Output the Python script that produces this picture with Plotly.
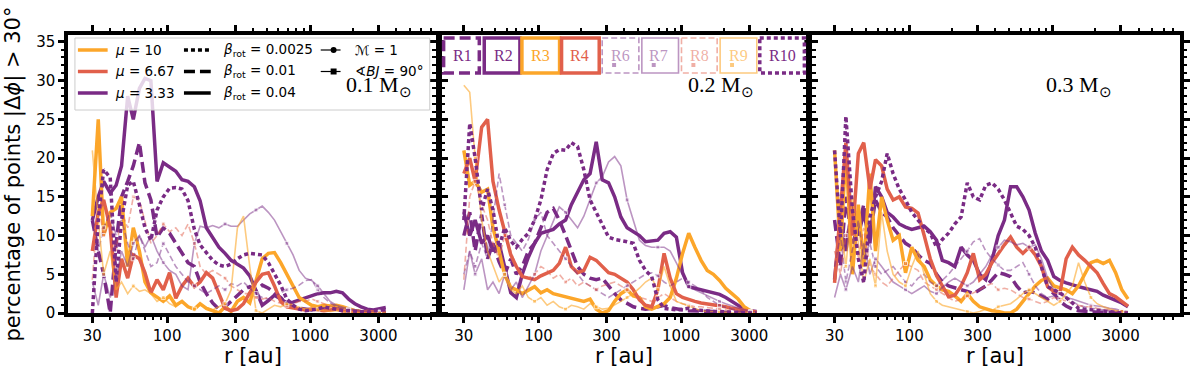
import plotly.graph_objects as go

# radial bins (au)
r_au = [30, 33, 36, 40, 44, 48, 53, 58, 64, 70,
        77, 85, 94, 104, 115, 127, 140, 155, 170, 188,
        208, 230, 254, 280, 310, 342, 378, 418, 462, 510,
        563, 622, 687, 759, 838, 926, 1023, 1130, 1248, 1379,
        1523, 1682, 1858, 2053, 2268, 2505, 2767, 3057, 3377]

# percentage of points with |dphi| > 30 deg -- 0.1 Msun
p1_r1 = [12, 8, 5, 0, 9, 15, 17, 19, 22, 16.8,
         14.6, 9.8, 11, 10.3, 9, 7.7, 6.5, 6, 4, 2.5,
         1.3, 0.5, 0.8, 1.5, 2.2, 3.0, 3.4, 3.0, 3.6, 3.2,
         2.6, 2.0, 1.2, 0.8, 0.6, 0.5, 0.4, 0.6, 0.8, 0.9,
         0.7, 0.5, 0.4, 0.3, 0.2, 0.2, 0.3, 0.2, 0.3]
p1_r2 = [12, 15, 17, 15.5, 16.5, 19, 28, 25, 29, 30.3,
         30, 17, 19.4, 18.8, 18.3, 17.2, 17, 16.3, 14.5, 11,
         9.8, 8.5, 7.7, 6.8, 6.3, 5.8, 4.8, 3.0, 1.0, 1.6,
         2.3, 1.8, 1.3, 1.4, 1.7, 1.9, 2.2, 2.5, 2.6, 2.6,
         2.8, 2.6, 1.8, 1.2, 0.8, 0.5, 0.4, 0.5, 0.7]
p1_r3 = [12.5, 25, 10, 13, 13.5, 15, 6, 11, 8, 4,
         2.6, 2, 1.5, 2.2, 1.0, 1.5, 0.8, 0.5, 1.2, 0.6,
         0.3, 0, 0.8, 0.2, 1.5, 2, 1.3, 4, 7, 7.7,
         7.8, 6.5, 5, 3.5, 2, 1.5, 1.0, 0.8, 1.0, 0.9,
         1.0, 0.8, 0.5, 0.3, 0.2, 0.1, 0, 0, 0]
p1_r4 = [8, 13, 14.6, 11, 2, 7, 4.5, 7.5, 7, 5.2,
         2.6, 4.3, 3, 5.2, 1.9, 3.5, 4.5, 3.4, 4, 5.2,
         4.5, 2.6, 0.6, 0.3, 0.5, 1.2, 2.5, 4, 5, 5.2,
         3.5, 1.5, 0.8, 0.6, 0.5, 0.4, 0.5, 0.4, 0.3, 0.4,
         0.5, 0.3, 0.2, 0.2, 0.1, 0.2, 0.1, 0, 0]
p1_r6 = [12, 8, 11, 13, 10, 12, 9, 7, 10, 8,
         6, 6.5, 9, 7.5, 6, 5, 4, 3.5, 3, 2.5,
         3, 3.5, 3, 3.8, 3.5, 4, 3.2, 2.5, 2, 1.8,
         2.2, 2.6, 3, 3.2, 3.6, 4.2, 4.3, 3, 2, 1.3,
         0.8, 0.6, 0.4, 0.3, 0.2, 0.2, 0.1, 0.1, 0.1]
p1_r7 = [4, 1, 5, 2, 4.5, 8, 6, 9, 10, 8.5,
         10, 8, 6.5, 5.5, 5, 3.5, 3, 9, 11.2, 11,
         11.3, 11, 11.5, 11.2, 11.2, 12, 12.8, 13.3, 13.8, 13,
         12, 10.5, 9, 7.5, 5.5, 4.5, 4.2, 3.5, 2.5, 1.5,
         1.0, 0.8, 0.5, 0.4, 0.3, 0.2, 0.2, 0.1, 0.1]
p1_r8 = [4.3, 14, 10, 12, 8, 13, 11, 15, 14.5, 12,
         9, 10, 11.5, 10.5, 11, 10, 11.5, 9, 6, 5,
         5.5, 5, 4.5, 3.5, 3, 2.5, 2.5, 2, 1.8, 2,
         1.5, 1.2, 1.0, 1.2, 1.5, 1.5, 1.8, 1.5, 1.2, 0.8,
         0.6, 0.4, 0.3, 0.3, 0.2, 0.1, 0.1, 0, 0]
p1_r9 = [21, 12, 5, 8, 3, 4, 2.5, 3.5, 2.8, 3,
         2.5, 1.5, 2, 1.2, 0.8, 1.5, 0.8, 0.5, 1.0, 0.7,
         0.4, 0.8, 1.2, 3, 11, 12.5, 6, 0.3, 0, 0.5,
         1.0, 0.8, 1.2, 1.0, 0.7, 0.5, 0.6, 0.4, 0.3, 0.2,
         0.3, 0.2, 0.1, 0.1, 0, 0, 0.1, 0, 0]
p1_r10 = [0, 12, 18.5, 17.5, 4, 12, 16.5, 17, 14, 11,
          9.4, 13.3, 15, 16.1, 16.2, 16, 14.5, 10.8, 8.8, 7.8,
          6.8, 6.2, 6, 6.3, 7, 7.5, 7.7, 7.6, 7.5, 6.5,
          5, 3.6, 1.8, 1, 0.5, 0.3, 0.4, 0.5, 0.8, 0.6,
          0.4, 0.3, 0.3, 0.2, 0.2, 0.1, 0.3, 0.3, 0.5]

# 0.2 Msun
p2_r1 = [10, 13, 8, 12.7, 7, 9, 6.6, 5, 7, 5,
         6, 8, 9, 11, 13, 13.5, 12, 10, 8, 6,
         5, 4.5, 4.3, 4.5, 3.5, 2.5, 1.7, 1.2, 0.8, 0.6,
         0.5, 0.6, 0.8, 1.0, 0.7, 0.5, 0.4, 0.3, 0.3, 0.2,
         0.2, 0.2, 0.1, 0.1, 0.1, 0, 0, 0, 0]
p2_r2 = [13, 10, 12, 9, 10, 8, 9, 6, 2.6, 2,
         5, 7.2, 9, 10.3, 10.5, 10.8, 11.5, 12, 14, 15.5,
         17.2, 18, 22.1, 17.2, 16.8, 15, 12.4, 11, 10.5, 10,
         9.2, 9.3, 9.4, 10.3, 10.5, 9.8, 5.2, 3.4, 3.2, 3,
         2.8, 2.6, 2.4, 2, 1.5, 1, 0.5, 0.3, 0.2]
p2_r3 = [21, 16.5, 17, 15.6, 16, 11, 8, 4.9, 3.3, 3,
         2.5, 3, 3.4, 2.6, 3, 2.5, 2.3, 2.1, 2, 1.8,
         1.5, 1.8, 0.5, 0, 0.3, 1.5, 2.5, 3.0, 2.2, 2,
         0.8, 0.5, 0.8, 1.2, 2, 4.5, 7.7, 10.3, 8.5, 6.8,
         5.5, 5, 4.2, 3.2, 2.5, 1.8, 0.8, 0.3, 0]
p2_r4 = [18, 20, 17, 24, 25, 17, 13.3, 10.3, 7.5, 6,
         4.7, 4.5, 4.3, 4.8, 5.2, 5.5, 6.4, 8.5, 6, 5.2,
         5.5, 7.2, 6.8, 6, 5.2, 5, 4.5, 4, 3, 1.7,
         1.0, 0.8, 3, 7.7, 4.5, 2.5, 2, 1.7, 1.5, 1.3,
         1.2, 1.1, 0.9, 0.8, 0.6, 0.5, 0.4, 0.2, 0.1]
p2_r6 = [5, 8, 6, 9, 7, 12, 18, 14, 10, 9,
         8, 9.5, 12, 13, 10, 9, 8, 7, 6, 5,
         4, 3.5, 3, 2.5, 2, 2.5, 3, 3.5, 4.0, 4.5,
         5, 5.2, 4.8, 4, 3.5, 4, 4.5, 4, 3.5, 3,
         2, 1.5, 1, 0.7, 0.5, 0.3, 0.2, 0.1, 0.1]
p2_r7 = [3, 8, 5, 7, 3, 4, 2.5, 5, 3, 4,
         2, 3.5, 5, 8, 10, 12, 13.7, 13, 12, 11,
         12.5, 14.6, 16.8, 17.6, 19.5, 20.2, 19, 14.6, 12, 9.4,
         8.7, 8.5, 8.5, 8.5, 8, 6.4, 5, 3.4, 3, 2.6,
         2.2, 1.8, 1.5, 1.2, 0.9, 0.6, 0.4, 0.2, 0.1]
p2_r8 = [4.3, 15, 17, 14, 12, 9, 7, 10, 8, 6,
         5, 4.5, 5, 6, 5.5, 4.5, 5, 4, 4.5, 3.5,
         4, 3.5, 3, 3.5, 3.8, 4, 3.5, 3, 2.5, 2,
         1.8, 1.5, 2, 2.5, 2, 1.5, 1.2, 1, 0.8, 0.8,
         0.7, 0.6, 0.5, 0.4, 0.3, 0.3, 0.2, 0.1, 0.1]
p2_r9 = [29.4, 28.5, 20, 12, 8, 6, 4, 5, 3, 2.5,
         3.5, 2, 1.5, 2, 1.0, 1.5, 0.8, 0.5, 1, 0.8,
         0.5, 1.2, 0.8, 0.5, 0.6, 1.0, 1.5, 2.0, 2.5, 3.2,
         4, 4.5, 3, 6, 3.5, 1.5, 1.2, 0.8, 0.5, 0.3,
         0.2, 0.2, 0.1, 0.1, 0, 0, 0, 0, 0]
p2_r10 = [12, 24.5, 20, 13.3, 16, 13.3, 8.5, 11, 9.3, 8.5,
          9.5, 10.3, 12, 14.6, 18.5, 20.6, 21.1, 21, 22, 21.5,
          18.5, 14.6, 13, 11.4, 9.8, 9.5, 9.4, 9.2, 9, 6.8,
          5.5, 4.7, 1.7, 0.6, 0.5, 0.4, 0.5, 0.6, 0.4, 0.3,
          0.3, 0.2, 0.2, 0.1, 0.1, 0.1, 0, 0, 0]

# 0.3 Msun
p3_r1 = [12, 6, 15, 9, 11, 14, 10, 14.6, 13, 12.4,
         11, 10, 9, 8.5, 7.5, 6.8, 6.4, 5, 4, 3.5,
         3.2, 3, 2.8, 2.5, 3, 3.5, 4.3, 5.2, 5, 4.7,
         3.5, 2.6, 2.8, 2.6, 2.2, 1.8, 2.6, 1.5, 0.9, 0.5,
         0.3, 0.2, 0.2, 0.1, 0.1, 0, 0, 0, 0]
p3_r2 = [4.3, 12, 8, 14, 10, 13, 9, 16.3, 15, 13,
         12.4, 11.5, 11.1, 10.8, 11, 11.2, 10.5, 9.4, 6.8, 6.5,
         6, 8.5, 7.5, 6.8, 5, 4.3, 6.8, 10, 12, 16.3,
         16.3, 15, 13.3, 10.3, 8, 6.8, 4.7, 4.2, 3.9, 3.6,
         3.4, 3.2, 3, 2.8, 2.3, 2, 1.6, 1.3, 0.8]
p3_r3 = [21, 8, 21, 5, 14, 6, 18, 8, 15, 12,
         9.4, 10, 5.2, 8.5, 6.8, 6, 4.3, 3.5, 3, 2.8,
         2.2, 1.5, 2.5, 1.5, 0.8, 0.5, 0.3, 0.2, 0, 0,
         0.5, 1.5, 2.5, 3.5, 4.2, 4.5, 3.5, 3.2, 3, 2.5,
         3.5, 5, 6.5, 6.8, 6.4, 6.8, 5.2, 3, 1.8]
p3_r4 = [3.9, 14, 22, 10, 20.6, 22, 16, 19.8, 19, 16,
         14.6, 15, 13.7, 13.5, 12.9, 10, 7, 4.8, 3.5, 2.1,
         2.3, 3.5, 5.2, 7.7, 4.3, 5, 6.5, 7.7, 8.8, 9.8,
         8.5, 7.7, 8.5, 7.5, 6, 3.4, 2.8, 2.6, 7, 8.5,
         7.5, 6.8, 6, 5.2, 3.8, 2.5, 2.1, 1.5, 0.9]
p3_r6 = [6, 10, 4, 8, 12, 7, 9, 6, 5, 5.5,
         6, 5, 4, 3.5, 4.5, 5, 4, 3.5, 4.2, 5,
         6, 7, 8, 9.2, 9.6, 8, 7, 6.2, 5.5, 5.5,
         6, 6.5, 5, 3.5, 2.5, 2, 2.2, 2.5, 2, 1.5,
         1, 0.8, 0.6, 0.5, 0.4, 0.3, 0.2, 0.1, 0.1]
p3_r7 = [2, 5, 3, 6, 4, 9, 5, 7, 6, 5,
         4, 3.5, 3, 2.5, 3, 3.5, 2.8, 2.5, 3.3, 4,
         4.5, 4, 3.5, 4, 5, 6, 7.5, 8.5, 9.4, 9.2,
         8.8, 9, 8.5, 8.8, 7, 4.5, 3, 2.5, 2, 1.8,
         1.5, 1.2, 1, 0.9, 0.8, 0.6, 0.5, 0.3, 0.2]
p3_r8 = [8, 5, 10, 13, 7, 11, 6, 5, 4, 3.5,
         4.5, 5.5, 6.4, 6, 5.5, 4, 3.5, 3, 2.5, 2,
         1.5, 1.8, 2.2, 2.5, 3, 3.5, 3.8, 3, 3.2, 3,
         2.5, 2, 1.8, 1.5, 1.2, 1.5, 2, 1.8, 1.5, 1.2,
         1.0, 0.8, 0.8, 0.6, 0.5, 0.4, 0.3, 0.2, 0.1]
p3_r9 = [21, 12, 6, 15, 9, 4, 7, 3.5, 13, 8,
         5, 4, 3.5, 6, 8, 5, 2.5, 1.5, 1, 0.8,
         0.5, 0.3, 0.2, 0, 0.2, 0.5, 0.3, 0.8, 1.0, 1.2,
         1.8, 2.5, 3, 2.5, 2, 1.5, 1.0, 1.5, 2.5, 3.5,
         6.5, 4, 2, 1.2, 0.8, 0.5, 0.3, 0.2, 0.1]
p3_r10 = [21, 9.8, 25.4, 13.3, 7, 3.9, 12.4, 15, 17, 20.6,
          18, 16, 14.6, 13, 12, 11, 10.3, 8.5, 9.5, 10.3,
          11.5, 12.4, 16.8, 15, 14.6, 16.5, 16.8, 16, 14.6, 12.9,
          11.2, 10.8, 10, 8.5, 6, 3.4, 3, 2.6, 2, 1.3,
          0.6, 0.5, 0.4, 0.3, 0.2, 0.2, 0.1, 0, 0]

run_names = ["R1", "R2", "R3", "R4", "R6", "R7", "R8", "R9", "R10"]
mass_labels = ["0.1", "0.2", "0.3"]
x_tick_vals = [30, 100, 300, 1000, 3000]
y_tick_vals = [0, 5, 10, 15, 20, 25, 30, 35]
mu_labels = ["10", "6.67", "3.33"]
beta_labels = ["0.0025", "0.01", "0.04"]

panels = [
    [p1_r1, p1_r2, p1_r3, p1_r4, p1_r6, p1_r7, p1_r8, p1_r9, p1_r10],
    [p2_r1, p2_r2, p2_r3, p2_r4, p2_r6, p2_r7, p2_r8, p2_r9, p2_r10],
    [p3_r1, p3_r2, p3_r3, p3_r4, p3_r6, p3_r7, p3_r8, p3_r9, p3_r10],
]

PURPLE = "#7a2b85"
RED = "#e1604b"
ORANGE = "#fca62a"
PURPLE_L = "rgba(122,43,133,0.5)"
RED_L = "rgba(225,96,75,0.5)"
ORANGE_L = "rgba(252,166,42,0.6)"

DOT = "4px,3px"
DASH = "11px,5px"
DASH_THIN = "6px,3px"

# colour, dash, width, square markers
style = {
    "R1": (PURPLE, DASH, 3.5, False),
    "R2": (PURPLE, "solid", 3.5, False),
    "R3": (ORANGE, "solid", 3.5, False),
    "R4": (RED, "solid", 3.5, False),
    "R6": (PURPLE_L, DASH_THIN, 1.6, True),
    "R7": (PURPLE_L, "solid", 1.6, True),
    "R8": (RED_L, DASH_THIN, 1.6, True),
    "R9": (ORANGE_L, "solid", 1.6, True),
    "R10": (PURPLE, DOT, 3.5, False),
}

W, H = 1200, 371
ML, MR, MT, MB = 68, 10, 35, 58


def px(x):
    return (x - ML) / (W - ML - MR)


def py(y):
    return (H - MB - y) / (H - MT - MB)


fig = go.Figure()
marker_sizes = [4 if i % 5 == 2 else 0 for i in range(len(r_au))]
for p, series in enumerate(panels, start=1):
    sfx = "" if p == 1 else str(p)
    for name, vals in zip(run_names, series):
        color, dash, width, marked = style[name]
        fig.add_trace(go.Scatter(
            x=r_au, y=vals,
            mode="lines+markers" if marked else "lines",
            line=dict(color=color, width=width, dash=dash),
            marker=dict(symbol="square", color=color, size=marker_sizes),
            xaxis="x" + sfx, yaxis="y" + sfx,
            showlegend=False, hoverinfo="skip",
        ))

gap = 0.0008
domains = [[0, 1 / 3 - gap], [1 / 3 + gap, 2 / 3 - gap], [2 / 3 + gap, 1]]
minor_x = [m * 10 ** k for k in (1, 2, 3) for m in range(2, 10)]
axis_common = dict(
    showline=True, linecolor="black", linewidth=3.5, mirror="allticks",
    ticks="outside", ticklen=6, tickwidth=2.5, tickcolor="black",
    showgrid=False, zeroline=False,
    tickfont=dict(family="DejaVu Sans", size=15, color="black"),
)
for p in range(1, 4):
    sfx = "" if p == 1 else str(p)
    fig.update_layout(**{
        "xaxis" + sfx: dict(
            type="log", range=[1.307, 3.892], domain=domains[p - 1],
            anchor="y" + sfx, tickvals=x_tick_vals,
            ticktext=[str(v) for v in x_tick_vals],
            minor=dict(tickvals=minor_x, ticks="outside", ticklen=3.5,
                       tickwidth=1.5, tickcolor="black"),
            **axis_common),
        "yaxis" + sfx: dict(
            range=[0, 35.9], domain=[0, 1], anchor="x" + sfx,
            tickvals=y_tick_vals, showticklabels=(p == 1),
            minor=dict(dtick=1, ticks="outside", ticklen=3.5,
                       tickwidth=1.5, tickcolor="black"),
            **axis_common),
    })

shapes = []
annotations = []


def hline(x0, x1, y, color, width, dash="solid"):
    shapes.append(dict(type="line", xref="paper", yref="paper",
                       x0=px(x0), x1=px(x1), y0=py(y), y1=py(y),
                       line=dict(color=color, width=width, dash=dash)))


def label(x, y, text, size, color="black", family="DejaVu Sans", xanchor="left", angle=0):
    annotations.append(dict(xref="paper", yref="paper", x=px(x), y=py(y), text=text,
                            showarrow=False, xanchor=xanchor, yanchor="middle",
                            textangle=angle,
                            font=dict(family=family, size=size, color=color)))


# legend box in first panel
shapes.append(dict(type="rect", xref="paper", yref="paper",
                   x0=px(75), x1=px(433), y0=py(38), y1=py(110),
                   fillcolor="rgba(255,255,255,0.8)",
                   line=dict(color="#cccccc", width=1)))
rows = [50, 71.5, 93]
for y, c, mu in zip(rows, [ORANGE, RED, PURPLE], mu_labels):
    hline(78, 108, y, c, 3.5)
    label(113, y, f"<i>μ</i> = {mu}", 13.5)
for y, d, b in zip(rows, [DOT, DASH, "solid"], beta_labels):
    hline(185, 212, y, "black", 3.5, d)
    label(222, y, f"<i>β</i><sub>rot</sub> = {b}", 13.5)
hline(323, 343, rows[0], "black", 1.2)
shapes.append(dict(type="circle", xref="paper", yref="paper",
                   x0=px(333), x1=px(339), y0=py(rows[0] + 3), y1=py(rows[0] - 3),
                   fillcolor="black", line=dict(width=0)))
label(356, rows[0], "ℳ = 1", 13.5)
hline(323, 343, rows[1], "black", 1.2)
shapes.append(dict(type="rect", xref="paper", yref="paper",
                   x0=px(333), x1=px(339), y0=py(rows[1] + 3), y1=py(rows[1] - 3),
                   fillcolor="black", line=dict(width=0)))
label(356, rows[1], "∢<i>BJ</i> = 90°", 13.5)

# run boxes in second panel
box_x = [(447, 483), (488, 524), (526, 564), (566, 604), (607, 644),
         (647, 684), (687, 723), (726, 763), (766, 811)]
text_x = [466, 507, 545, 584, 625, 664, 705, 745, 789]
for name, (x0, x1), tx in zip(run_names, box_x, text_x):
    color, dash, width, marked = style[name]
    shapes.append(dict(type="rect", xref="paper", yref="paper",
                       x0=px(x0), x1=px(x1), y0=py(38), y1=py(73),
                       fillcolor="white", line=dict(color=color, width=width, dash=dash)))
    label(tx, 55.5, name, 16, color=color, family="Liberation Serif", xanchor="center")
    if marked:
        shapes.append(dict(type="rect", xref="paper", yref="paper",
                           x0=px(x0 + 10), x1=px(x0 + 14), y0=py(67), y1=py(63),
                           fillcolor=color, line=dict(width=0)))

# core mass labels
for mass, cx in zip(mass_labels, [382, 727, 1088]):
    label(cx, 86, f"{mass} M<sub>⊙</sub>", 22, family="Liberation Serif", xanchor="center")

# axis titles
for cx in [255, 629, 1003]:
    label(cx, 356, "r [au]", 21, xanchor="center")
label(13, 174, "percentage of points |Δ<i>ϕ</i>| > 30°", 21, xanchor="center", angle=-90)

fig.update_layout(
    width=W, height=H,
    margin=dict(l=ML, r=MR, t=MT, b=MB),
    paper_bgcolor="white", plot_bgcolor="white",
    shapes=shapes, annotations=annotations,
)

# the page's default body margin would shift the whole figure by 8 px
fig.write_html("out.html", config={"displayModeBar": False},
               post_script="document.body.style.margin = '0px';")
